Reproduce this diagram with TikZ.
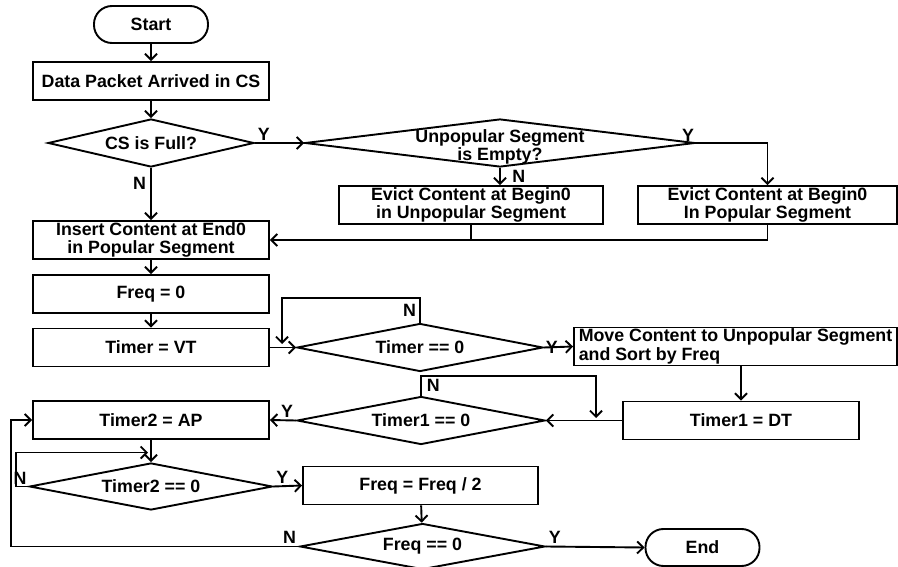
\documentclass[tikz,border=0pt]{standalone}
\usepackage{fontspec}
\setmainfont{Liberation Sans}
\usetikzlibrary{shapes.geometric,arrows.meta}

\begin{document}
\begin{tikzpicture}[x=1pt,y=-1pt,line width=1.9pt,
    font=\fontsize{17.8}{18.5}\selectfont\bfseries,
    proc/.style={draw,minimum width=236,minimum height=38,inner sep=0pt,align=center},
    term/.style={draw,rounded corners=18pt,minimum width=114,minimum height=37},
    decide/.style={draw,diamond,aspect=5,inner sep=0pt},
    arr/.style={-{Straight Barb[length=6pt,width=12pt]}},
    yn/.style={inner sep=2pt}]
    \useasboundingbox (0,0) rectangle (898,567);

    \node[term] (start) at (151,24.5) {Start};
    \node[proc] (data) at (151,81) {Data Packet Arrived in CS};
    \node[decide,minimum width=206,minimum height=48] (full) at (151,143) {CS is Full?};
    \node[decide,minimum width=390,minimum height=48,
        label={[align=center,yshift=-4pt]center:Unpopular Segment\\is Empty?}] (empty) at (500,143) {};
    \node[proc,minimum width=264] (evictU) at (471,205) {Evict Content at Begin0\\in Unpopular Segment};
    \node[proc,minimum width=259] (evictP) at (767.5,205) {Evict Content at Begin0\\In Popular Segment};
    \node[proc] (insert) at (151,240) {Insert Content at End0\\in Popular Segment};
    \node[proc] (freq) at (151,294) {Freq = 0};
    \node[proc] (timer) at (151,347.5) {Timer = VT};
    \node[decide,minimum width=246,minimum height=48] (tzero) at (420,347.5) {Timer == 0};
    \node[proc,minimum width=323,align=left] (move) at (735.5,346.5)
        {Move Content to Unpopular Segment\\and Sort by Freq};
    \node[proc] (dt) at (741,420.5) {Timer1 = DT};
    \node[decide,minimum width=248,minimum height=48] (tone) at (421,420.5) {Timer1 == 0};
    \node[proc] (ap) at (151,420) {Timer2 = AP};
    \node[decide,minimum width=243,minimum height=47] (ttwo) at (151,486.5) {Timer2 == 0};
    \node[proc,minimum width=235] (half) at (420.5,485.5) {Freq = Freq / 2};
    \node[decide,minimum width=245,minimum height=46] (fzero) at (422.5,546.5) {Freq == 0};
    \node[term] (end) at (702.5,547.5) {End};

    \coordinate (loopa) at (282,344);
    \coordinate (loopb) at (596,418);
    \coordinate (loopc) at (148,452.5);

    \draw[arr] (start) -- (data);
    \draw[arr] (data) -- (full);
    \draw[arr] (full.east) -- node[pos=0,above right,yn] {Y} (empty.west);
    \draw[arr] (full.south) -- node[pos=0.3,left,inner sep=4pt] {N} (insert.north);
    \draw[arr] (empty.south) -- node[right=8pt] {N} (empty.south |- evictU.north);
    \draw[arr] (empty.east) -| node[pos=0,above left,inner sep=1pt] {Y} (evictP.north);
    \draw (evictU.south) -- (evictU.south |- insert.east);
    \draw[arr] (evictP.south) |- (insert.east);
    \draw[arr] (insert) -- (freq);
    \draw[arr] (freq) -- (timer);
    \draw[arr] (timer.east) -- (tzero.west);
    \draw[arr] (tzero.north) -- node[left,inner sep=3pt] {N} ++(0,-25) -| (loopa);
    \draw[arr] (tzero.east) -- node[pos=0,right,inner sep=1pt] {Y} (move.west);
    \draw[arr] (dt.north |- move.south) -- (dt.north);
    \draw[arr] (dt.west) -- (tone.east);
    \draw[arr] (tone.north) -- node[right,inner sep=5pt] {N} ++(0,-20) -| (loopb);
    \draw[arr] (tone.west) -- node[pos=0,above left,yn] {Y} (ap.east);
    \draw[arr] (ap) -- (ttwo);
    \draw[arr] (ttwo.west) -- node[pos=0,above left,inner sep=1pt] {N} ++(-12.5,0) |- (loopc);
    \draw[arr] (ttwo.east) -- node[pos=0,above right,yn] {Y} (half.west);
    \draw[arr] (half) -- (fzero);
    \draw[arr] (fzero.east) -- node[pos=0,above right,yn] {Y} (end.west);
    \draw[arr] (fzero.west) -- node[pos=0,above left,yn] {N} ++(-288,0) |- (ap.west);
\end{tikzpicture}
\end{document}
